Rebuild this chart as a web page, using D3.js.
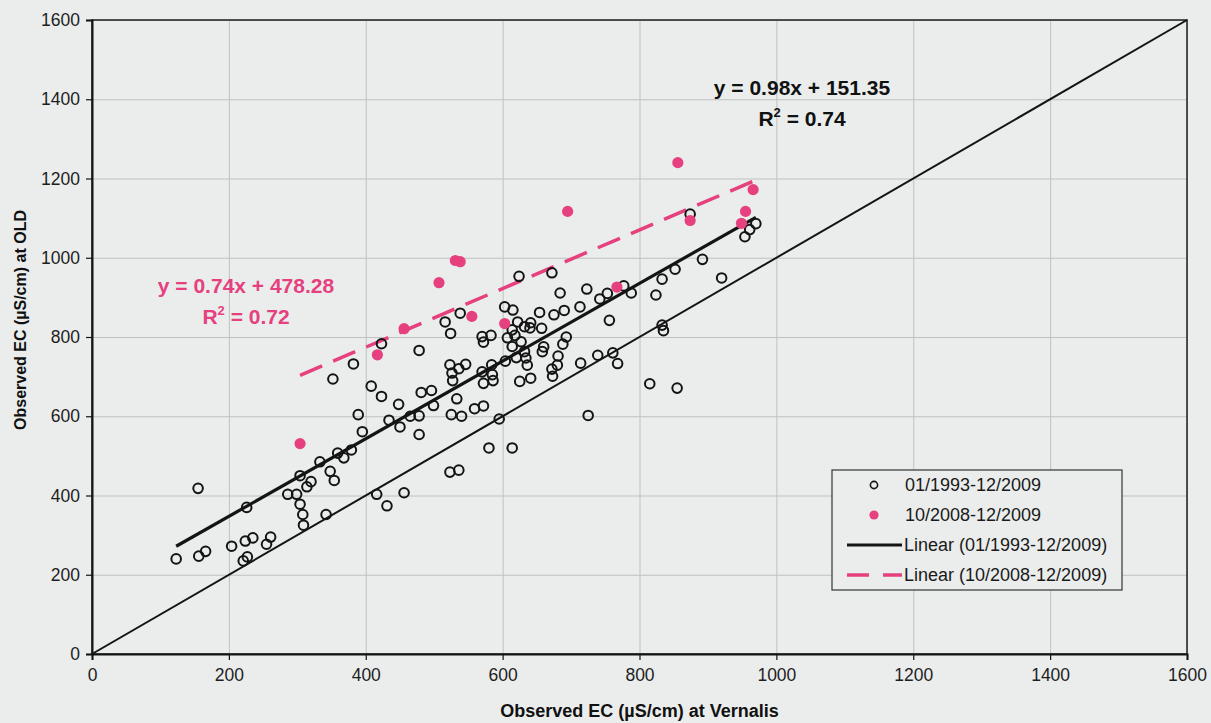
<!DOCTYPE html>
<html>
<head>
<meta charset="utf-8">
<script src="https://cdn.jsdelivr.net/npm/d3@7"></script>
<style>
  body { margin: 0; background: #eceeec; }
  svg { display: block; font-family: "Liberation Sans", Arial, sans-serif; }
</style>
</head>
<body>
<svg id="chart"></svg>
<script>
// observed EC pairs [Vernalis, OLD], 01/1993-12/2009
const allPoints = [
  [123, 240], [155, 418], [156, 247], [166, 259], [204, 272], [224, 285], [235, 293],
  [221, 235], [227, 245], [255, 277], [261, 295], [226, 370], [286, 403], [299, 403],
  [304, 378], [308, 352], [309, 325], [304, 450], [314, 422], [320, 435], [342, 352],
  [333, 485], [348, 461], [354, 438], [359, 507], [368, 495], [379, 515], [352, 694],
  [382, 732], [395, 561], [389, 604], [408, 676], [423, 650], [416, 403], [431, 374],
  [423, 783], [434, 590], [456, 407], [448, 630], [450, 573], [465, 600], [478, 601],
  [478, 554], [478, 766], [481, 660], [496, 665], [499, 627], [516, 838], [523, 730],
  [523, 459], [524, 809], [525, 604], [526, 709], [527, 690], [533, 644], [536, 720],
  [536, 464], [538, 860], [540, 600], [546, 731], [559, 619], [570, 801], [570, 712],
  [572, 787], [572, 683], [572, 626], [580, 520], [583, 804], [584, 730], [585, 705],
  [586, 690], [595, 593], [603, 876], [604, 739], [607, 798], [614, 818], [614, 776],
  [614, 520], [615, 868], [618, 804], [620, 748], [622, 838], [624, 953], [625, 688],
  [627, 788], [632, 826], [632, 763], [634, 747], [636, 729], [640, 823], [641, 836],
  [641, 696], [654, 862], [657, 822], [658, 763], [660, 775], [672, 962], [672, 719],
  [673, 701], [675, 856], [680, 729], [681, 752], [684, 911], [688, 782], [690, 867],
  [693, 800], [713, 876], [714, 734], [723, 921], [725, 602], [739, 754], [742, 896],
  [753, 910], [756, 842], [761, 760], [768, 733], [777, 929], [788, 911], [815, 682],
  [824, 906], [833, 946], [833, 830], [835, 816], [852, 971], [855, 671], [874, 1110],
  [892, 996], [920, 949], [954, 1053], [961, 1071], [970, 1086]
];

// 10/2008-12/2009
const recentPoints = [
  [304, 531], [417, 755], [456, 821], [507, 937], [531, 993], [538, 990], [555, 852],
  [603, 834], [695, 1117], [767, 926], [856, 1240], [874, 1094], [949, 1087],
  [955, 1117], [966, 1172]
];

// trendline coefficients as printed on the chart
const allFit = { slope: 0.98, intercept: 151.35, r2: "0.74" };
const recentFit = { slope: 0.74, intercept: 478.28, r2: "0.72" };

const xTicks = [0, 200, 400, 600, 800, 1000, 1200, 1400, 1600];
const yTicks = [0, 200, 400, 600, 800, 1000, 1200, 1400, 1600];
const identityLine = [[0, 0], [1600, 1600]];
const legendItems = ["01/1993-12/2009", "10/2008-12/2009", "Linear (01/1993-12/2009)", "Linear (10/2008-12/2009)"];

const W = 1211, H = 723;
const M = { top: 20, right: 24, bottom: 69, left: 92 };
const PW = W - M.left - M.right;
const PH = H - M.top - M.bottom;
const PINK = "#e6407f";
const INK = "#141414";

const svg = d3.select("#chart").attr("width", W).attr("height", H);

svg.append("rect").attr("width", W).attr("height", H).attr("fill", "#eaedec");

const g = svg.append("g").attr("transform", `translate(${M.left},${M.top})`);

const x = d3.scaleLinear().domain([0, 1600]).range([0, PW]);
const y = d3.scaleLinear().domain([0, 1600]).range([PH, 0]);

// gridlines
g.append("g")
  .attr("transform", `translate(0,${PH})`)
  .call(d3.axisBottom(x).tickValues(xTicks).tickSize(-PH).tickFormat(""))
  .call(a => a.select(".domain").remove())
  .call(a => a.selectAll(".tick line").attr("stroke", "#bfc1c0").attr("stroke-width", 1));

g.append("g")
  .call(d3.axisLeft(y).tickValues(yTicks).tickSize(-PW).tickFormat(""))
  .call(a => a.select(".domain").remove())
  .call(a => a.selectAll(".tick line").attr("stroke", "#bfc1c0").attr("stroke-width", 1));

// plot border
g.append("rect")
  .attr("width", PW).attr("height", PH)
  .attr("fill", "none").attr("stroke", "#2a2a2a").attr("stroke-width", 1.6);

// axes
g.append("g")
  .attr("transform", `translate(0,${PH})`)
  .call(d3.axisBottom(x).tickValues(xTicks).tickSize(6).tickPadding(9).tickFormat(d3.format("d")))
  .call(a => a.select(".domain").attr("stroke", INK).attr("stroke-width", 2))
  .call(a => a.selectAll(".tick line").attr("stroke", INK).attr("stroke-width", 1.2))
  .selectAll("text")
  .attr("fill", "#1e1e1e").attr("font-size", 17.5).attr("font-family", "Liberation Sans, Arial, sans-serif");

g.append("g")
  .call(d3.axisLeft(y).tickValues(yTicks).tickSize(6).tickPadding(6).tickFormat(d3.format("d")))
  .call(a => a.select(".domain").attr("stroke", INK).attr("stroke-width", 2))
  .call(a => a.selectAll(".tick line").attr("stroke", INK).attr("stroke-width", 1.2))
  .selectAll("text")
  .attr("fill", "#1e1e1e").attr("font-size", 17.5).attr("font-family", "Liberation Sans, Arial, sans-serif");

const line = d3.line().x(d => x(d[0])).y(d => y(d[1]));

// 1:1 line
g.append("path")
  .datum(identityLine)
  .attr("fill", "none").attr("stroke", INK).attr("stroke-width", 2)
  .attr("d", line);

// trend lines over each series' x range
function fitLine(points, fit) {
  const ext = d3.extent(points, d => d[0]);
  return ext.map(v => [v, fit.slope * v + fit.intercept]);
}

g.append("path")
  .datum(fitLine(allPoints, allFit))
  .attr("fill", "none").attr("stroke", INK).attr("stroke-width", 3.2)
  .attr("d", line);

g.append("path")
  .datum(fitLine(recentPoints, recentFit))
  .attr("fill", "none").attr("stroke", PINK).attr("stroke-width", 3.5)
  .attr("stroke-dasharray", "24,12")
  .attr("d", line);

// points
g.selectAll(".dot-all")
  .data(allPoints)
  .enter()
  .append("circle")
  .attr("class", "dot-all")
  .attr("cx", d => x(d[0]))
  .attr("cy", d => y(d[1]))
  .attr("r", 4.8)
  .attr("fill", "none")
  .attr("stroke", INK)
  .attr("stroke-width", 2);

g.selectAll(".dot-recent")
  .data(recentPoints)
  .enter()
  .append("circle")
  .attr("class", "dot-recent")
  .attr("cx", d => x(d[0]))
  .attr("cy", d => y(d[1]))
  .attr("r", 5.6)
  .attr("fill", PINK);

// equations
function equation(cx, cy, fit, color) {
  const t = svg.append("g").attr("fill", color).attr("font-weight", "bold").attr("text-anchor", "middle");
  t.append("text")
    .attr("x", cx).attr("y", cy)
    .attr("font-size", 21)
    .text(`y = ${fit.slope.toFixed(2)}x + ${fit.intercept.toFixed(2)}`);
  const r = t.append("text").attr("x", cx).attr("y", cy + 31).attr("font-size", 21);
  r.append("tspan").text("R");
  r.append("tspan").attr("font-size", 13).attr("dy", -9).text("2");
  r.append("tspan").attr("dy", 9).text(` = ${fit.r2}`);
}
equation(802, 95, allFit, "#111");
equation(246, 293, recentFit, PINK);

// axis titles
svg.append("text")
  .attr("x", M.left + PW / 2).attr("y", 717)
  .attr("text-anchor", "middle")
  .attr("font-size", 18).attr("font-weight", "bold").attr("fill", "#111")
  .text("Observed EC (µS/cm) at Vernalis");

svg.append("text")
  .attr("transform", "translate(26,320) rotate(-90)")
  .attr("text-anchor", "middle")
  .attr("font-size", 16).attr("font-weight", "bold").attr("fill", "#111")
  .text("Observed EC (µS/cm) at OLD");

// legend
const lg = svg.append("g").attr("transform", "translate(832,470)");
lg.append("rect")
  .attr("width", 290).attr("height", 120)
  .attr("fill", "#eaedec").attr("stroke", "#333").attr("stroke-width", 1.2);

const rowY = i => 15 + i * 30;
lg.append("circle").attr("cx", 42).attr("cy", rowY(0)).attr("r", 3.6)
  .attr("fill", "none").attr("stroke", INK).attr("stroke-width", 1.6);
lg.append("circle").attr("cx", 42).attr("cy", rowY(1)).attr("r", 4.6).attr("fill", PINK);
lg.append("line").attr("x1", 15).attr("x2", 70).attr("y1", rowY(2)).attr("y2", rowY(2))
  .attr("stroke", INK).attr("stroke-width", 3.2);
lg.append("line").attr("x1", 15).attr("x2", 70).attr("y1", rowY(3)).attr("y2", rowY(3))
  .attr("stroke", PINK).attr("stroke-width", 3.5).attr("stroke-dasharray", "22,14");

lg.selectAll(".lt")
  .data(legendItems)
  .enter()
  .append("text")
  .attr("class", "lt")
  .attr("x", (d, i) => i < 2 ? 73 : 72)
  .attr("y", (d, i) => rowY(i) + 6)
  .attr("font-size", 18)
  .attr("fill", "#1a1a1a")
  .text(d => d);
</script>
</body>
</html>
